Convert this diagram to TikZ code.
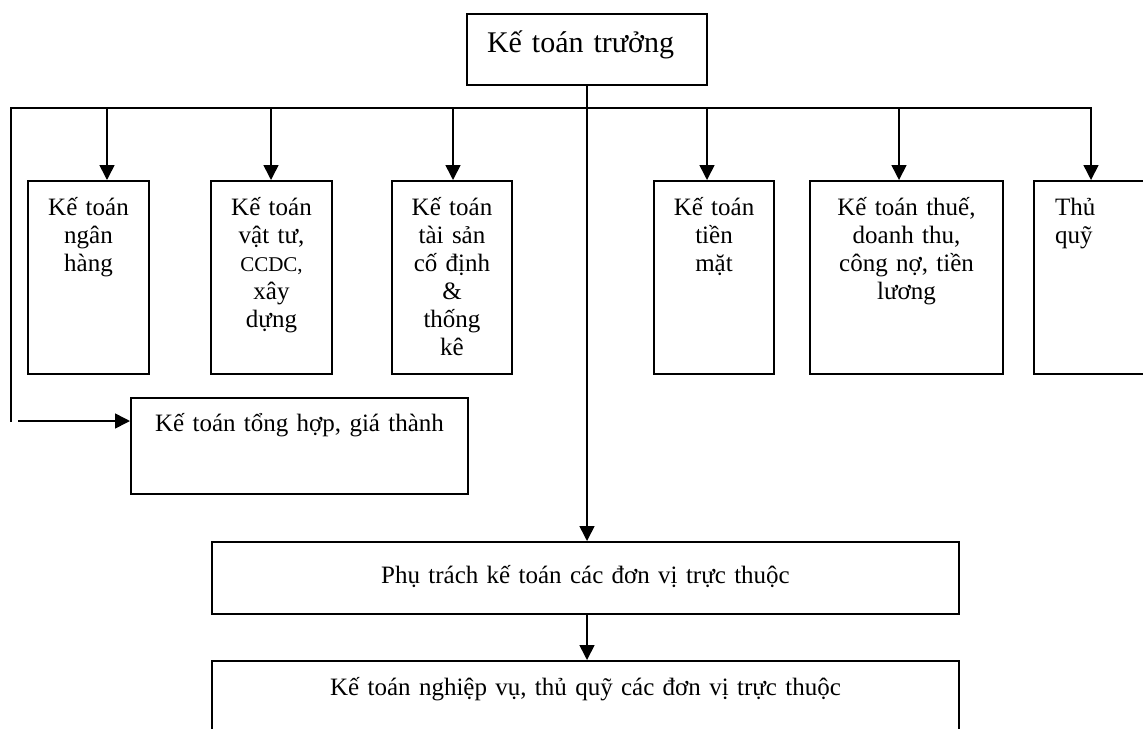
\documentclass[tikz,border=0pt]{standalone}
\usepackage{fontspec}
\setmainfont{Liberation Serif}
\usetikzlibrary{arrows.meta, positioning, calc}

\tikzset{
  box/.style={draw, line width=1pt, anchor=north west, inner xsep=0pt, inner ysep=0pt,
    align=center, font=\fontsize{12.5}{14}\selectfont},
  rowbox/.style={box, text height=17pt, text depth=79.5pt},
  conn/.style={line width=0.8pt, line cap=rect},
  arr/.style={line width=0.8pt, -{Triangle[length=7.5pt,width=7.5pt]}}
}

\begin{document}
\begin{tikzpicture}[x=0.5pt, y=-0.5pt]
  \useasboundingbox (0,0) rectangle (1143,728);

  % head of department
  \node[box, align=left, inner xsep=10pt, text width=100pt, text height=19pt, text depth=16.5pt,
    font=\fontsize{15}{18}\selectfont] (truong) at (466,13) {Kế toán trưởng};

  % first row
  \node[rowbox, text width=60.5pt] (ngan) at (27,180) {Kế toán\\ngân\\hàng};
  \node[rowbox, text width=60.5pt] (vattu) at (210,180)
    {Kế toán\\vật tư,\\{\fontsize{10.5}{12}\selectfont CCDC,}\\xây\\dựng};
  \node[rowbox, text width=60pt] (taisan) at (391,180)
    {Kế toán\\tài sản\\cố định\\\&\\thống\\kê};
  \node[rowbox, text width=60pt] (tienmat) at (653,180) {Kế toán\\tiền\\mặt};
  \node[rowbox, text width=96.5pt] (thue) at (809,180)
    {Kế toán thuế,\\doanh thu,\\công nợ, tiền\\lương};
  \node[rowbox, align=left, inner xsep=10.5pt, text width=44pt] (thuquy) at (1033,180) {Thủ\\quỹ};

  % lower boxes
  \node[box, text width=168.5pt, text height=16.5pt, text depth=31.5pt] (tong) at (130,397)
    {Kế toán tổng hợp, giá thành};
  \node[box, text width=373.5pt, text height=20.5pt, text depth=15.5pt] (phutrach) at (211,541)
    {Phụ trách kế toán các đơn vị trực thuộc};
  \node[box, text width=373.5pt, text height=17pt, text depth=33pt] (nghiepvu) at (211,660)
    {Kế toán nghiệp vụ, thủ quỹ các đơn vị trực thuộc};

  % bus
  \coordinate (busL) at (11,108);
  \coordinate (busR) at (1091,108);
  \coordinate (corner) at (11,421);
  \coordinate (tongIn) at (18,421);
  \draw[conn] (corner) -- (busL) -- (busR);
  \foreach \x/\b in {107/ngan, 271/vattu, 453/taisan, 707/tienmat, 899/thue, 1091/thuquy} {
    \coordinate (t\b) at (\x,108);
    \draw[arr] (t\b) -- (t\b |- \b.north);
  }
  \draw[arr] (tongIn) -- (tongIn -| tong.west);

  % trunk
  \draw[arr] (truong.south) -- (truong.south |- phutrach.north);
  \draw[arr] (truong.south |- phutrach.south) -- (truong.south |- nghiepvu.north);
\end{tikzpicture}
\end{document}
